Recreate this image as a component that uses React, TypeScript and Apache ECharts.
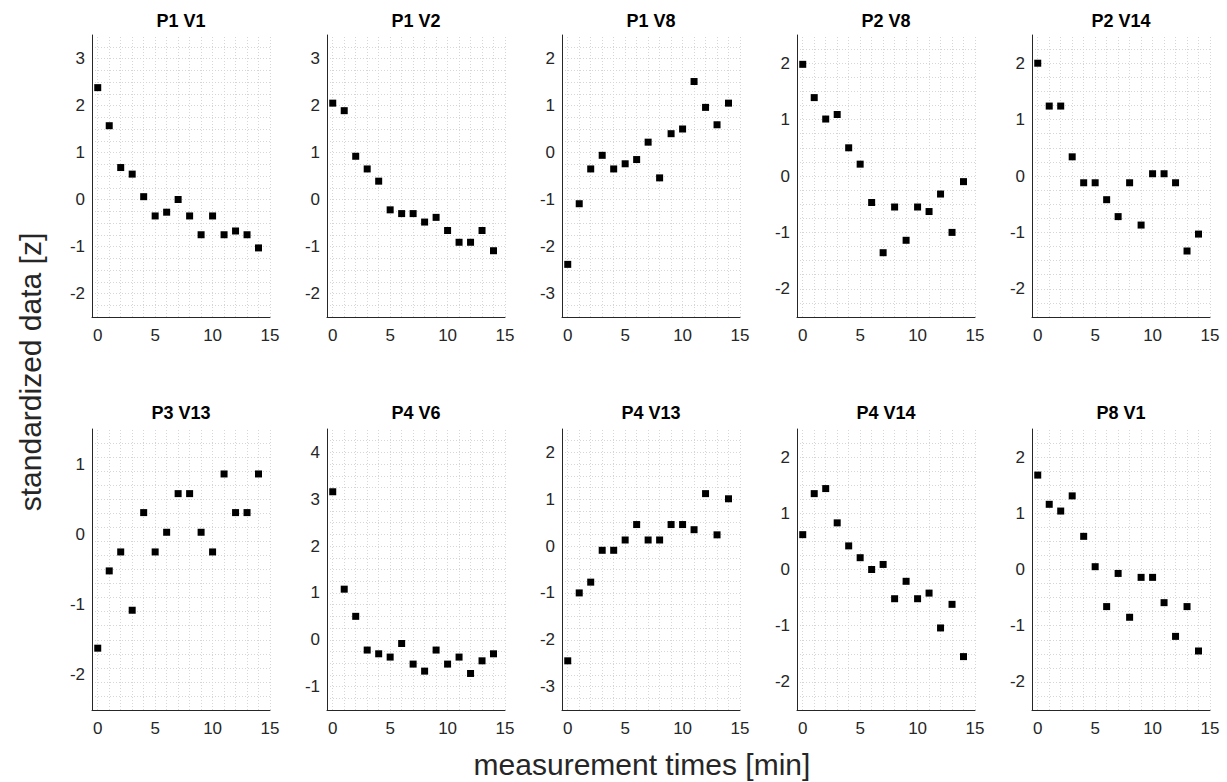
import React, { useEffect, useRef } from "react";
import * as echarts from "echarts";

// measurement times [min]
const times = [0, 1, 2, 3, 4, 5, 6, 7, 8, 9, 10, 11, 12, 13, 14];

// standardized data [z] per panel
const p1v1 = [2.38, 1.57, 0.68, 0.54, 0.06, -0.35, -0.27, 0.0, -0.35, -0.75, -0.35, -0.75, -0.67, -0.75, -1.03];
const p1v2 = [2.05, 1.89, 0.92, 0.65, 0.39, -0.22, -0.3, -0.3, -0.48, -0.38, -0.66, -0.91, -0.91, -0.66, -1.09];
const p1v8 = [-2.38, -1.09, -0.35, -0.06, -0.35, -0.24, -0.15, 0.22, -0.54, 0.4, 0.5, 1.51, 0.96, 0.59, 1.05];
const p2v8 = [1.98, 1.39, 1.01, 1.09, 0.5, 0.21, -0.47, -1.36, -0.55, -1.14, -0.55, -0.63, -0.32, -1.0, -0.1];
const p2v14 = [2.0, 1.24, 1.24, 0.34, -0.12, -0.12, -0.42, -0.72, -0.12, -0.87, 0.04, 0.04, -0.12, -1.33, -1.03];
const p3v13 = [-1.62, -0.52, -0.25, -1.08, 0.31, -0.25, 0.03, 0.58, 0.58, 0.03, -0.25, 0.86, 0.31, 0.31, 0.86];
const p4v6 = [3.16, 1.08, 0.5, -0.22, -0.3, -0.37, -0.08, -0.52, -0.67, -0.22, -0.52, -0.37, -0.72, -0.45, -0.3];
const p4v13 = [-2.45, -1.0, -0.77, -0.09, -0.09, 0.13, 0.46, 0.13, 0.13, 0.46, 0.46, 0.35, 1.12, 0.24, 1.01];
const p4v14 = [0.62, 1.35, 1.44, 0.83, 0.42, 0.21, 0.0, 0.09, -0.52, -0.21, -0.52, -0.42, -1.04, -0.62, -1.55];
const p8v1 = [1.68, 1.16, 1.04, 1.31, 0.59, 0.05, -0.66, -0.07, -0.85, -0.14, -0.14, -0.59, -1.19, -0.66, -1.45];

const panelTitles = ["P1 V1", "P1 V2", "P1 V8", "P2 V8", "P2 V14", "P3 V13", "P4 V6", "P4 V13", "P4 V14", "P8 V1"];
const panelData = [p1v1, p1v2, p1v8, p2v8, p2v14, p3v13, p4v6, p4v13, p4v14, p8v1];
const yMins = [-2.5, -2.5, -3.5, -2.5, -2.5, -2.5, -1.5, -3.5, -2.5, -2.5];
const yMaxs = [3.5, 3.5, 2.5, 2.5, 2.5, 1.5, 4.5, 2.5, 2.5, 2.5];
const yMinorSteps = [0.25, 0.25, 0.25, 0.25, 0.25, 0.2, 0.25, 0.25, 0.25, 0.25];

const xMin = -0.5;
const xMax = 15;
const xTickLabels = [0, 5, 10, 15];
const xGridValues = [0, 1, 2, 3, 4, 5, 6, 7, 8, 9, 10, 11, 12, 13, 14, 15];

const FONT = "'Liberation Sans', Arial, Helvetica, sans-serif";
const AXIS_COLOR = "#262626";
const GRID_COLOR = "#d6d6d6";

function yGridValues(min: number, max: number, step: number): number[] {
  const out: number[] = [];
  const n = Math.round((max - min) / step);
  for (let i = 1; i < n; i++) {
    out.push(Math.round((min + i * step) * 1000) / 1000);
  }
  return out;
}

export default function App() {
  const ref = useRef<HTMLDivElement>(null);

  useEffect(() => {
    if (!ref.current) return;
    const chart = echarts.init(ref.current, null, { renderer: "svg" });

    const lefts = [92, 327, 562, 797, 1032];
    const tops = [35, 429];
    const heights = [282, 281];
    const width = 178;
    const titleY = [21, 413];

    const grids: any[] = [];
    const xAxes: any[] = [];
    const yAxes: any[] = [];
    const series: any[] = [];
    const graphics: any[] = [];

    panelData.forEach((vals, i) => {
      const row = Math.floor(i / 5);
      const col = i % 5;
      grids.push({
        left: lefts[col],
        top: tops[row],
        width: width,
        height: heights[row],
        containLabel: false,
      });
      xAxes.push({
        type: "value",
        gridIndex: i,
        min: xMin,
        max: xMax,
        interval: 0.5,
        z: 4,
        axisLine: { show: true, onZero: false, lineStyle: { color: AXIS_COLOR, width: 1 } },
        axisTick: { show: false },
        splitLine: { show: false },
        axisLabel: {
          color: AXIS_COLOR,
          fontFamily: FONT,
          fontSize: 17,
          margin: 10,
          formatter: (v: number) => (xTickLabels.some((t) => Math.abs(t - v) < 1e-6) ? String(Math.round(v)) : ""),
        },
      });
      yAxes.push({
        type: "value",
        gridIndex: i,
        min: yMins[i],
        max: yMaxs[i],
        interval: 0.5,
        z: 4,
        axisLine: { show: true, onZero: false, lineStyle: { color: AXIS_COLOR, width: 1 } },
        axisTick: { show: false },
        splitLine: { show: false },
        axisLabel: {
          color: AXIS_COLOR,
          fontFamily: FONT,
          fontSize: 17,
          margin: 7,
          formatter: (v: number) => (Math.abs(v - Math.round(v)) < 1e-6 ? String(Math.round(v)) : ""),
        },
      });
      const gridLines = [
        ...xGridValues.map((v) => ({ xAxis: v })),
        ...yGridValues(yMins[i], yMaxs[i], yMinorSteps[i]).map((v) => ({ yAxis: v })),
      ];
      series.push({
        type: "scatter",
        xAxisIndex: i,
        yAxisIndex: i,
        data: [],
        z: 1,
        silent: true,
        markLine: {
          silent: true,
          z: 1,
          symbol: ["none", "none"],
          label: { show: false },
          lineStyle: { color: GRID_COLOR, width: 1, type: [1, 2] },
          emphasis: { disabled: true },
          data: gridLines,
        },
      });
      series.push({
        type: "scatter",
        xAxisIndex: i,
        yAxisIndex: i,
        z: 10,
        symbol: "rect",
        symbolSize: 7,
        itemStyle: { color: "#000000", opacity: 1 },
        data: times.map((t, k) => [t, vals[k]]),
      });
      graphics.push({
        type: "text",
        x: lefts[col] + width / 2,
        y: titleY[row],
        style: {
          text: panelTitles[i],
          fill: "#000000",
          font: `bold 18px ${FONT}`,
          textAlign: "center",
          textVerticalAlign: "middle",
        },
      });
    });

    graphics.push({
      type: "text",
      x: 642,
      y: 764,
      style: {
        text: "measurement times [min]",
        fill: AXIS_COLOR,
        font: `30px ${FONT}`,
        textAlign: "center",
        textVerticalAlign: "middle",
      },
    });
    graphics.push({
      type: "text",
      x: 30,
      y: 372,
      rotation: Math.PI / 2,
      style: {
        text: "standardized data [z]",
        fill: AXIS_COLOR,
        font: `30px ${FONT}`,
        textAlign: "center",
        textVerticalAlign: "middle",
      },
    });

    chart.setOption({
      animation: false,
      backgroundColor: "#ffffff",
      grid: grids,
      xAxis: xAxes,
      yAxis: yAxes,
      series: series,
      graphic: graphics,
    });

    return () => chart.dispose();
  }, []);

  return (
    <div
      ref={ref}
      style={{ position: "fixed", left: 0, top: 0, width: 1227, height: 782, background: "#ffffff" }}
    />
  );
}
